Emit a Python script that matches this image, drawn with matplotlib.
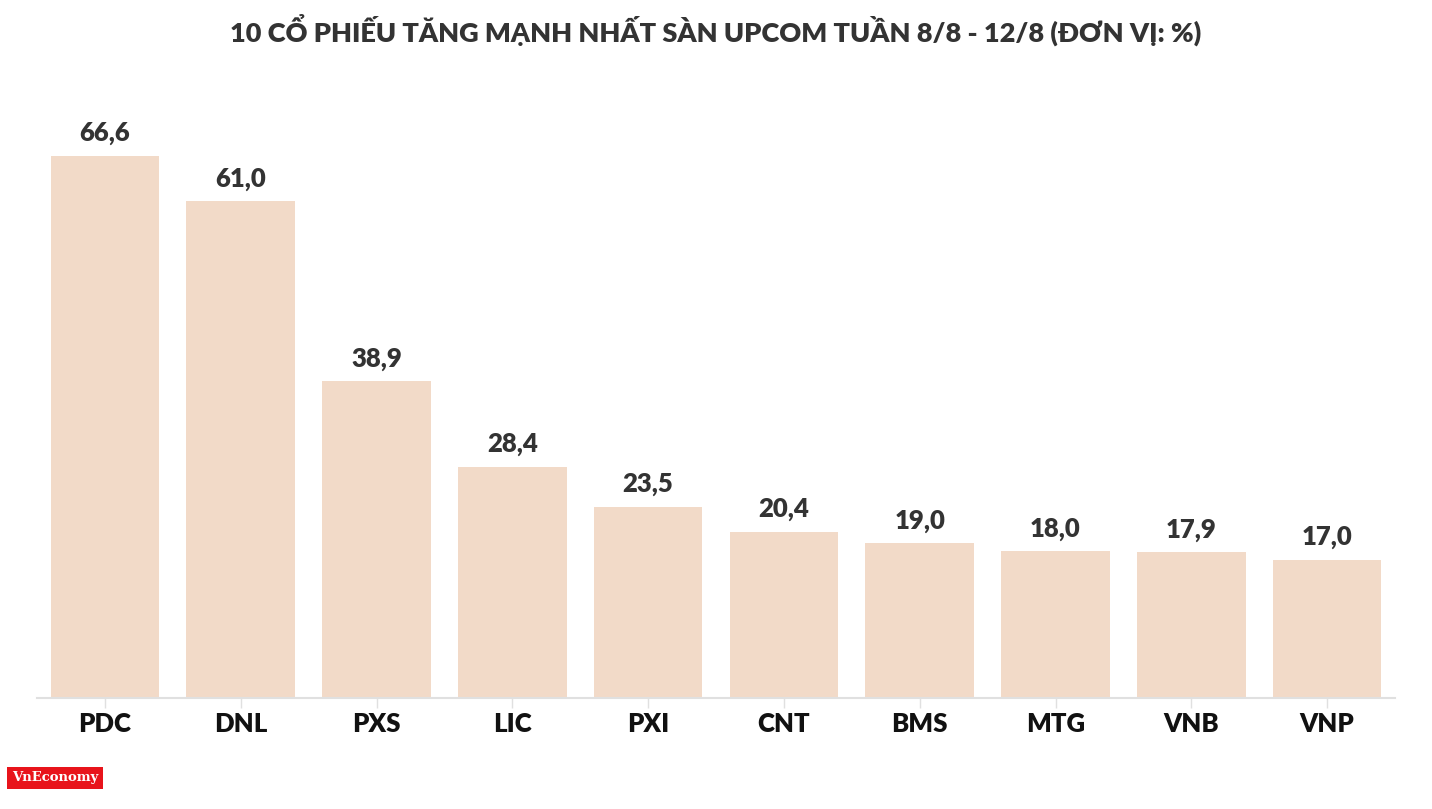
import matplotlib.pyplot as plt
import numpy as np

# ── Data ──────────────────────────────────────────────────────────────────────
tickers = ['PDC', 'DNL', 'PXS', 'LIC', 'PXI', 'CNT', 'BMS', 'MTG', 'VNB', 'VNP']
gains = [66.6, 61.0, 38.9, 28.4, 23.5, 20.4, 19.0, 18.0, 17.9, 17.0]
title = '10 CỔ PHIẾU TĂNG MẠNH NHẤT SÀN UPCOM TUẦN 8/8 - 12/8 (ĐƠN VỊ: %)'

plt.rcParams['font.family'] = ['Lato', 'DejaVu Sans']

W, H = 1432, 809
fig = plt.figure(figsize=(W / 100, H / 100), dpi=100)
ax = fig.add_axes([37 / W, 1 - 698 / H, (1395 - 37) / W, (698 - 100) / H])

x = np.arange(len(tickers))
ax.bar(x, gains, width=0.8, color='#f2dac8')
ax.set_xlim(-0.5, len(tickers) - 0.5)
ax.set_ylim(0, (698 - 100) / 8.14)

for xi, v in zip(x, gains):
    ax.text(xi, v + 1.3, f'{v:.1f}'.replace('.', ','), ha='center', va='bottom',
            fontsize=18.5, fontweight='heavy', color='#333333')

ax.set_xticks(x)
ax.set_xticklabels(tickers, fontsize=18.5, fontweight='heavy', color='#111111')
ax.tick_params(axis='x', length=7, width=1, color='#e0e0e0', pad=3)
ax.set_yticks([])
for s in ['top', 'right', 'left']:
    ax.spines[s].set_visible(False)
ax.spines['bottom'].set_color('#e0e0e0')
ax.spines['bottom'].set_linewidth(1.5)

fig.text(0.5, 1 - 30 / H, title, ha='center', va='center', fontsize=19.5,
         fontweight='heavy', color='#333333')

# logo
fig.text(12 / W, 1 - 778 / H, 'VnEconomy', ha='left', va='center', fontsize=9.5,
         family='DejaVu Serif', fontweight='bold', color='white',
         bbox=dict(boxstyle='square,pad=0.35', fc='#e8141b', ec='none'))

fig.savefig('out.png', dpi=100)
